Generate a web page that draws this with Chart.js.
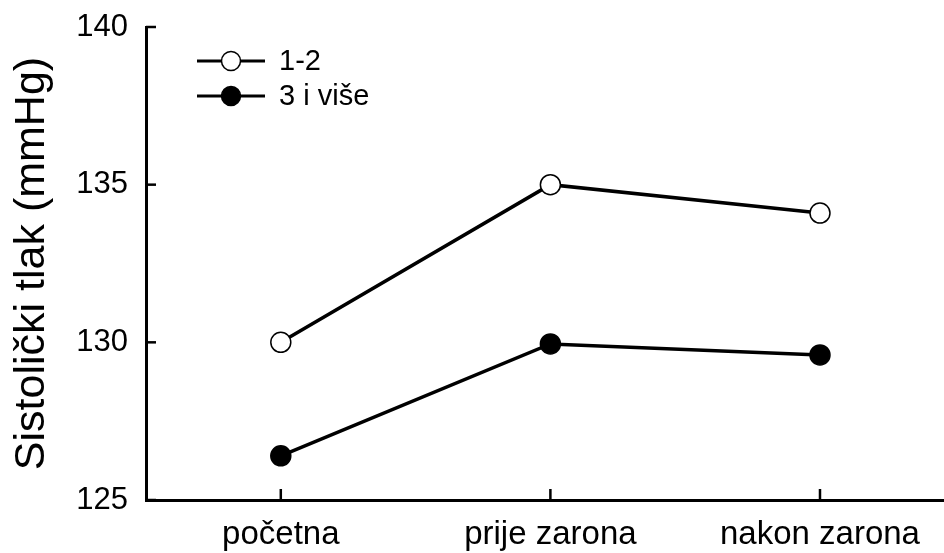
<!DOCTYPE html>
<html>
<head>
<meta charset="utf-8">
<script src="https://cdn.jsdelivr.net/npm/chart.js@4"></script>
<style>
  html, body { margin: 0; padding: 0; background: #fff; overflow: hidden; }
  #lineChart { display: block; }
</style>
</head>
<body>
<canvas id="lineChart" width="944" height="553"></canvas>
<script>
// data
var labels = ['početna', 'prije zarona', 'nakon zarona'];
var seriesNames = ['1-2', '3 i više'];
var vals12 = [130.0, 135.0, 134.1];
var vals3plus = [126.4, 129.95, 129.6];
var yTicks = [125, 130, 135, 140];

var font = 'Liberation Sans, Arial, sans-serif';

// categories sit on a numeric x axis so the right end can be cut short like in the original
function toPoints(vals) {
  return vals.map(function (v, i) { return { x: i, y: v }; });
}

// ticks point inward, and the legend sits inside the plot with a line through each marker
var inwardTicks = {
  id: 'inwardTicks',
  afterDraw: function (chart) {
    var ctx = chart.ctx;
    var x = chart.scales.x, y = chart.scales.y;
    ctx.save();
    ctx.strokeStyle = '#000';
    ctx.lineWidth = 2.5;
    yTicks.forEach(function (v) {
      var py = y.getPixelForValue(v);
      ctx.beginPath();
      ctx.moveTo(x.left, py);
      ctx.lineTo(x.left + 10, py);
      ctx.stroke();
    });
    labels.forEach(function (l, i) {
      var px = x.getPixelForValue(i);
      ctx.beginPath();
      ctx.moveTo(px, y.bottom);
      ctx.lineTo(px, y.bottom - 11);
      ctx.stroke();
    });
    ctx.restore();
  }
};

var lineLegend = {
  id: 'lineLegend',
  afterDraw: function (chart) {
    var ctx = chart.ctx;
    ctx.save();
    chart.data.datasets.forEach(function (ds, i) {
      var cy = 61 + i * 35;
      ctx.strokeStyle = ds.borderColor;
      ctx.lineWidth = 3;
      ctx.beginPath();
      ctx.moveTo(197, cy);
      ctx.lineTo(265, cy);
      ctx.stroke();
      ctx.beginPath();
      ctx.arc(231, cy, 9.5, 0, Math.PI * 2);
      ctx.fillStyle = ds.pointBackgroundColor;
      ctx.fill();
      ctx.lineWidth = 1.5;
      ctx.strokeStyle = '#000';
      ctx.stroke();
      ctx.fillStyle = '#000';
      ctx.font = '29px ' + font;
      ctx.textBaseline = 'middle';
      ctx.fillText(ds.label, 279, cy + 1);
    });
    ctx.restore();
  }
};

var ctx = document.getElementById('lineChart').getContext('2d');
var myChart = new Chart(ctx, {
  type: 'line',
  data: {
    datasets: [{
      label: seriesNames[0],
      data: toPoints(vals12),
      borderColor: '#000',
      borderWidth: 3.5,
      pointBackgroundColor: '#fff',
      pointBorderColor: '#000',
      pointBorderWidth: 1.5,
      pointRadius: 10
    },
    {
      label: seriesNames[1],
      data: toPoints(vals3plus),
      borderColor: '#000',
      borderWidth: 3.5,
      pointBackgroundColor: '#000',
      pointBorderColor: '#000',
      pointBorderWidth: 1.5,
      pointRadius: 10
    }]
  },
  options: {
    responsive: false,
    animation: false,
    layout: { autoPadding: false, padding: { top: 27, right: 0, left: 0, bottom: 0 } },
    plugins: {
      legend: { display: false },
      tooltip: { enabled: false }
    },
    scales: {
      x: {
        type: 'linear',
        min: -0.5,
        max: 2.46,
        afterBuildTicks: function (s) {
          s.ticks = labels.map(function (l, i) { return { value: i }; });
        },
        grid: { display: false, drawTicks: false },
        border: { display: true, color: '#000', width: 3 },
        ticks: {
          color: '#000', padding: 15, autoSkip: false, maxRotation: 0,
          font: { family: font, size: 33 },
          callback: function (v) { return labels[v]; }
        },
        afterFit: function (s) {
          s.height = 53;
          s.paddingLeft = 0; s.paddingRight = 0;
        }
      },
      y: {
        min: 125,
        max: 140,
        afterBuildTicks: function (s) {
          s.ticks = yTicks.map(function (v) { return { value: v }; });
        },
        grid: { display: false, drawTicks: false },
        border: { display: true, color: '#000', width: 3 },
        ticks: { color: '#000', padding: 18, font: { family: font, size: 31 } },
        title: {
          display: true,
          text: 'Sistolički tlak (mmHg)',
          color: '#000',
          font: { family: font, size: 43 },
          padding: { top: 6, bottom: 0 }
        },
        afterFit: function (s) {
          s.width = 146;
          s.paddingTop = 0; s.paddingBottom = 0;
        }
      }
    }
  },
  plugins: [inwardTicks, lineLegend]
});
</script>
</body>
</html>
